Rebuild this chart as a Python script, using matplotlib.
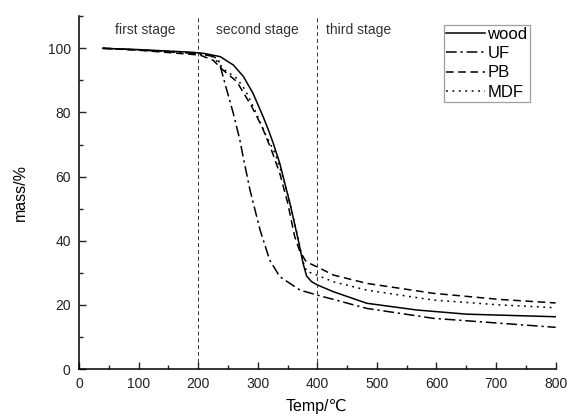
import matplotlib
matplotlib.use("Agg")
import matplotlib.pyplot as plt
from matplotlib.ticker import MultipleLocator

plt.rcParams['font.family'] = ['Liberation Sans', 'DejaVu Sans']

wood_x = [40, 100, 186, 210, 237, 259, 276, 292, 309, 318, 326, 337, 354, 368, 376, 382, 390, 399, 427, 483, 567, 651, 800]
wood_y = [100, 99.6, 98.8, 98.4, 97.4, 94.8, 91.2, 86, 78.7, 74.5, 70.4, 64.1, 51.7, 40.2, 33, 29, 27.3, 26.3, 24.1, 20.5, 18.4, 17.1, 16.3]

uf_x = [40, 100, 200, 225, 234, 248, 259, 270, 276, 287, 304, 320, 337, 371, 399, 483, 595, 800]
uf_y = [100, 99.5, 98.3, 97.5, 96.5, 87, 79.7, 71.4, 65.7, 55.8, 43.3, 34, 28.8, 24.6, 23.1, 18.9, 15.8, 13.0]

pb_x = [40, 100, 203, 225, 240, 265, 290, 307, 323, 337, 350, 362, 370, 380, 384, 399, 427, 483, 595, 706, 800]
pb_y = [100, 99.4, 97.9, 96.3, 93.5, 89.6, 81.8, 75.6, 68.3, 61, 52, 41.3, 37, 33.8, 33.2, 31.9, 29.3, 26.7, 23.6, 21.7, 20.6]

mdf_x = [40, 100, 200, 225, 245, 265, 279, 295, 312, 329, 342, 354, 366, 376, 382, 399, 427, 483, 595, 706, 800]
mdf_y = [100, 99.5, 98.6, 97.3, 93.2, 90.6, 87, 80.8, 73.5, 67.3, 60, 51.7, 42.3, 33.5, 30.5, 29.3, 27.2, 24.6, 21.5, 20, 19.1]

stage_bounds = [200, 400]
stage_labels = ["first stage", "second stage", "third stage"]
stage_label_x = [111, 300, 470]

fig = plt.figure(figsize=(5.67, 4.15), dpi=100)
ax = fig.add_axes([0.1393, 0.1108, 0.8407, 0.8501])

lw = 1.1
ax.plot(wood_x, wood_y, color='black', lw=lw, ls='-', label='wood')
ax.plot(uf_x, uf_y, color='black', lw=lw, ls=(0, (7, 2.5, 1.5, 2.5)), label='UF')
ax.plot(pb_x, pb_y, color='black', lw=lw, ls=(0, (5, 3)), label='PB')
ax.plot(mdf_x, mdf_y, color='black', lw=lw, ls=(0, (1.2, 3)), label='MDF')

for b in stage_bounds:
    ax.axvline(b, color='#333333', lw=0.7, ls=(0, (4, 3)))
for lab, x in zip(stage_labels, stage_label_x):
    ax.text(x, 105.8, lab, ha='center', va='center', fontsize=10, color='#333333')

ax.set_xlim(0, 800)
ax.set_ylim(0, 110)
ax.xaxis.set_major_locator(MultipleLocator(100))
ax.xaxis.set_minor_locator(MultipleLocator(50))
ax.yaxis.set_major_locator(MultipleLocator(20))
ax.yaxis.set_minor_locator(MultipleLocator(10))
ax.tick_params(which='both', direction='in', labelsize=10, colors='#222222')
ax.tick_params(axis='x', which='major', length=5, width=1, pad=5.5)
ax.tick_params(axis='y', which='major', length=5, width=1, pad=6)
ax.tick_params(which='minor', length=3, width=1)
for s in ['top', 'right']:
    ax.spines[s].set_visible(False)
for s in ['left', 'bottom']:
    ax.spines[s].set_linewidth(1.1)

ax.set_xlabel('Temp/℃', fontsize=11.5)
ax.xaxis.set_label_coords(0.499, -0.085)
ax.set_ylabel('mass/%', fontsize=11.5)
ax.yaxis.set_label_coords(-0.108, 0.5)

leg = ax.legend(loc='upper left', bbox_to_anchor=((444 - 79) / 476.7, (369 - 24.5) / 352.8),
                fontsize=12, frameon=True, fancybox=False, edgecolor='#888888',
                handlelength=2.3, handletextpad=0.15, borderpad=0.15,
                labelspacing=0.25, borderaxespad=0)
leg.get_frame().set_linewidth(0.9)

fig.savefig('out.png', dpi=100)
